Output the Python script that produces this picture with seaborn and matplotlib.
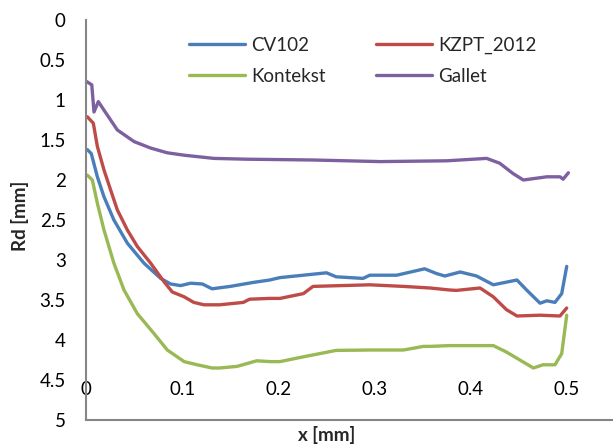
import matplotlib
matplotlib.use("Agg")
import matplotlib.pyplot as plt
import seaborn as sns
import pandas as pd

# ---- data ----
cv102_x = [0.0014, 0.0055, 0.0118, 0.0187, 0.029, 0.043, 0.0603, 0.0776, 0.088, 0.0984, 0.1088, 0.121,
           0.131, 0.15, 0.174, 0.191, 0.2017, 0.226, 0.250, 0.26, 0.288, 0.295, 0.323, 0.352, 0.3645,
           0.373, 0.389, 0.406, 0.4234, 0.448, 0.458, 0.472, 0.479, 0.4875, 0.4945, 0.4997]
cv102_y = [1.62, 1.67, 1.96, 2.21, 2.50, 2.79, 3.04, 3.23, 3.30, 3.32, 3.29, 3.30,
           3.36, 3.33, 3.28, 3.25, 3.22, 3.19, 3.16, 3.21, 3.23, 3.19, 3.19, 3.11, 3.17,
           3.20, 3.15, 3.20, 3.31, 3.25, 3.375, 3.54, 3.51, 3.53, 3.42, 3.08]

kzpt_x = [0.0014, 0.0076, 0.0118, 0.0187, 0.0256, 0.0326, 0.043, 0.0533, 0.0672, 0.081, 0.0897, 0.102,
          0.112, 0.1227, 0.139, 0.1635, 0.170, 0.191, 0.2017, 0.226, 0.236, 0.295, 0.33, 0.3576, 0.378,
          0.385, 0.4096, 0.4234, 0.437, 0.448, 0.472, 0.4927, 0.4997]
kzpt_y = [1.21, 1.29, 1.58, 1.875, 2.125, 2.375, 2.625, 2.83, 3.04, 3.27, 3.40, 3.46,
          3.53, 3.56, 3.56, 3.53, 3.49, 3.48, 3.48, 3.42, 3.33, 3.31, 3.33, 3.35, 3.375,
          3.38, 3.35, 3.46, 3.62, 3.70, 3.69, 3.70, 3.60]

kontekst_x = [0.0014, 0.0066, 0.0118, 0.0187, 0.029, 0.0395, 0.0533, 0.0707, 0.0845, 0.102, 0.1157,
              0.131, 0.139, 0.157, 0.1774, 0.191, 0.2017, 0.226, 0.26, 0.295, 0.33, 0.3506, 0.3576,
              0.378, 0.392, 0.4234, 0.437, 0.451, 0.465, 0.475, 0.4875, 0.4945, 0.4997]
kontekst_y = [1.94, 2.00, 2.29, 2.625, 3.04, 3.375, 3.67, 3.92, 4.125, 4.27, 4.31,
              4.35, 4.35, 4.33, 4.26, 4.27, 4.27, 4.21, 4.13, 4.125, 4.125, 4.08, 4.08,
              4.07, 4.07, 4.07, 4.15, 4.25, 4.35, 4.31, 4.31, 4.17, 3.69]

gallet_x = [0.0007, 0.006, 0.0083, 0.0128, 0.02, 0.0326, 0.05, 0.067, 0.0845, 0.102, 0.133, 0.167,
            0.236, 0.306, 0.375, 0.4165, 0.430, 0.444, 0.4546, 0.479, 0.4927, 0.496, 0.5014]
gallet_y = [0.77, 0.81, 1.15, 1.02, 1.15, 1.375, 1.52, 1.60, 1.66, 1.69, 1.73, 1.74,
            1.75, 1.77, 1.76, 1.73, 1.79, 1.92, 2.00, 1.96, 1.96, 1.99, 1.91]

series_names = ["CV102", "KZPT_2012", "Kontekst", "Gallet"]
colors = ["#4A7EBB", "#BE4B48", "#98B954", "#7D60A0"]
y_ticks = [0, 0.5, 1, 1.5, 2, 2.5, 3, 3.5, 4, 4.5, 5]
y_tick_labels = ["0", "0.5", "1", "1.5", "2", "2.5", "3", "3.5", "4", "4.5", "5"]
x_ticks = [0, 0.1, 0.2, 0.3, 0.4, 0.5]
x_tick_labels = ["0", "0.1", "0.2", "0.3", "0.4", "0.5"]

frames = []
for name, xs, ys in zip(series_names,
                        [cv102_x, kzpt_x, kontekst_x, gallet_x],
                        [cv102_y, kzpt_y, kontekst_y, gallet_y]):
    frames.append(pd.DataFrame({"x": xs, "Rd": ys, "series": name}))
df = pd.concat(frames, ignore_index=True)

sns.set_style("white")
plt.rcParams["font.family"] = ["Lato", "DejaVu Sans"]

W, H = 613, 446
FS = 13.5
fig = plt.figure(figsize=(W / 100, H / 100), dpi=100)
ax = fig.add_axes([86 / W, 1 - 420 / H, (W - 86) / W, 400 / H])

sns.lineplot(data=df, x="x", y="Rd", hue="series", hue_order=series_names,
             palette=colors, sort=False, estimator=None, linewidth=2.4, ax=ax, legend=False)

ax.set_xlim(0, 527 / 962)
ax.set_ylim(5, 0)
ax.set_yticks(y_ticks)
ax.set_yticklabels(y_tick_labels)
ax.set_xticks(x_ticks)
ax.set_xticklabels(x_tick_labels)

for s in ["top", "right"]:
    ax.spines[s].set_visible(False)
for s in ["left", "bottom"]:
    ax.spines[s].set_color("#868686")
    ax.spines[s].set_linewidth(1.5)

ax.tick_params(axis="y", direction="out", length=4.5, width=1.5, color="#868686",
               pad=10, labelsize=FS, labelcolor="black")
ax.tick_params(axis="x", direction="in", length=5, width=1.5, color="#868686",
               pad=-28, labelsize=FS, labelcolor="black")

ax.set_xlabel("x [mm]", fontsize=FS, fontweight="bold")
ax.set_ylabel("Rd [mm]", fontsize=FS, fontweight="bold")
ax.xaxis.set_label_coords((327 - 86) / 527, -(435 - 420) / 400)
ax.yaxis.set_label_coords((20 - 86) / 527, 0.51)
ax.xaxis.label.set_va("center")
ax.yaxis.label.set_va("center")

# legend filled row by row like the reference (matplotlib fills by column)
order = [0, 2, 1, 3]
handles = [plt.Line2D([], [], color=colors[i], lw=2.4) for i in order]
labels = [series_names[i] for i in order]
ax.legend(handles, labels, ncol=2, frameon=False, loc="upper left",
          bbox_to_anchor=(189 / W, 1 - 37 / H), bbox_transform=fig.transFigure,
          borderpad=0, borderaxespad=0, handlelength=3.0, handletextpad=0.3,
          columnspacing=2.7, labelspacing=0.72, fontsize=FS)

fig.savefig("out.png", dpi=100)
